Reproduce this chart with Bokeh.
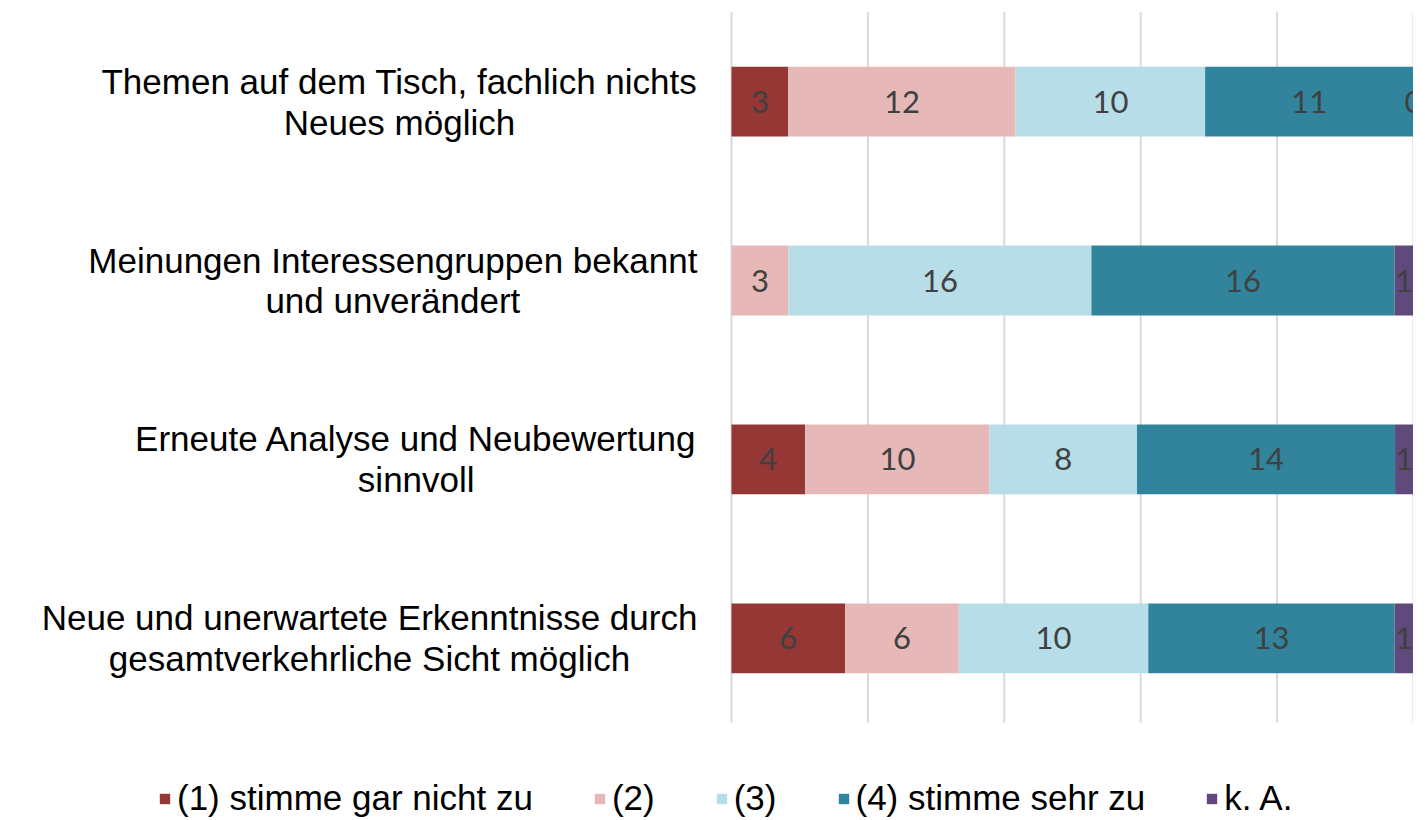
from bokeh.plotting import figure
from bokeh.models import ColumnDataSource, Legend, LegendItem, Label
from bokeh.core.properties import value
from bokeh.embed import file_html
from bokeh.resources import INLINE

categories = [
    "Themen auf dem Tisch, fachlich nichts\nNeues möglich",
    "Meinungen Interessengruppen bekannt\nund unverändert",
    "Erneute Analyse und Neubewertung\nsinnvoll",
    "Neue und unerwartete Erkenntnisse durch\ngesamtverkehrliche Sicht möglich",
]
series_names = ["(1) stimme gar nicht zu", "(2)", "(3)", "(4) stimme sehr zu", "k. A."]
s1 = [3, None, 4, 6]
s2 = [12, 3, 10, 6]
s3 = [10, 16, 8, 10]
s4 = [11, 16, 14, 13]
s5 = [0, 1, 1, 1]
colors = ["#953735", "#E6B9B8", "#B7DEE8", "#31849B", "#604A7B"]
grid_ticks = [0, 20, 40, 60, 80, 100]

series = [s1, s2, s3, s4, s5]
ypos = [-i for i in range(len(categories))]
totals = [sum((s[i] or 0) for s in series) for i in range(len(categories))]

LABEL_FONT = "Liberation Sans"

p = figure(width=1413, height=820, x_range=(-107.18, 100), y_range=(-4.018, 0.565),
           x_axis_type=None, y_axis_type=None, min_border=0,
           toolbar_location=None, output_backend="svg")
p.outline_line_color = None
p.background_fill_color = "white"

# gridlines
p.segment(x0=grid_ticks, x1=grid_ticks, y0=[0.5] * len(grid_ticks), y1=[-3.47] * len(grid_ticks),
          line_color="#D9D9D9", line_width=2)

left = [0.0] * len(categories)
items = []
for k, s in enumerate(series):
    vals = [(v or 0) for v in s]
    pct = [100.0 * v / t for v, t in zip(vals, totals)]
    right = [l + q for l, q in zip(left, pct)]
    src = ColumnDataSource(dict(y=ypos, left=left, right=right))
    r = p.hbar(y="y", left="left", right="right", height=0.39, source=src,
               fill_color=colors[k], line_color=None)
    items.append(LegendItem(label=series_names[k], renderers=[r]))
    lx, ly, lt = [], [], []
    for i, v in enumerate(s):
        if v is not None:
            lx.append((left[i] + right[i]) / 2)
            ly.append(ypos[i])
            lt.append(str(v))
    tsrc = ColumnDataSource(dict(x=lx, y=ly, t=lt))
    p.text(x="x", y="y", text="t", source=tsrc, text_align="center", text_baseline="middle",
           text_font=value("Lato"), text_font_size="31px", text_color="#404040")
    left = right

for i, c in enumerate(categories):
    lab = Label(x=-5, y=ypos[i], text=c, text_align="center", anchor="center_right",
                text_font=LABEL_FONT, text_font_size="35px", text_color="#000000",
                text_line_height=1.05)
    p.add_layout(lab)

legend = Legend(items=items, orientation="horizontal", location=(158, 2),
                glyph_width=13, glyph_height=13, label_standoff=6, spacing=60,
                padding=0, margin=0, border_line_color=None, background_fill_alpha=0,
                label_text_font=LABEL_FONT, label_text_font_size="35px",
                label_text_color="#000000")
p.add_layout(legend)

open("out.html", "w").write(file_html(p, INLINE))
